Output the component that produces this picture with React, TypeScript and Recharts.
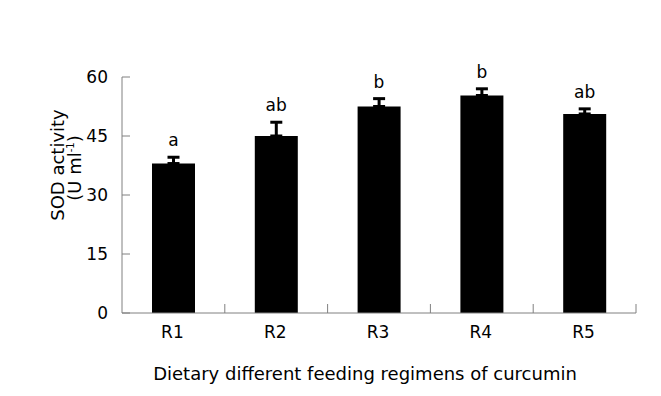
import React from 'react';
import { ComposedChart, Bar, Line, XAxis, YAxis, ErrorBar, LabelList } from 'recharts';

const regimens = ['R1', 'R2', 'R3', 'R4', 'R5'];
const sodMeans = [38.0, 45.0, 52.5, 55.3, 50.6];
const sodErrors = [1.6, 3.5, 2.0, 1.7, 1.3];
const letters = ['a', 'ab', 'b', 'b', 'ab'];
const yTicks = [0, 15, 30, 45, 60];

const data = regimens.map((r, i) => ({
    name: r,
    sod: sodMeans[i],
    err: [0, sodErrors[i]],
    top: sodMeans[i] + sodErrors[i],
    letter: letters[i],
}));

const FONT = '"DejaVu Sans", Verdana, sans-serif';
const AXIS = '#808080';

function YTick(props: any) {
    const { x, y, payload } = props;
    const axisX = x + 14;
    return (
        <g>
            <line x1={axisX} x2={axisX + 8} y1={y} y2={y} stroke={AXIS} strokeWidth={1} />
            <text x={x} y={y + 6} textAnchor="end" fontSize={17} fontFamily={FONT} fill="#000">{payload.value}</text>
        </g>
    );
}

function XTick(props: any) {
    const { x, y, payload } = props;
    const half = payload.offset ?? 51.4;
    return (
        <g>
            <line x1={x + half} x2={x + half} y1={y} y2={y - 9} stroke={AXIS} strokeWidth={1} />
            <text x={x - 1} y={y + 25} textAnchor="middle" fontSize={17} fontFamily={FONT} fill="#000">{payload.value}</text>
        </g>
    );
}

function LetterLabel(props: any) {
    const { x, y, value } = props;
    return (
        <text x={x} y={y - 11} textAnchor="middle" fontSize={17} fontFamily={FONT} fill="#000">{value}</text>
    );
}

function YTitle(props: any) {
    const { viewBox } = props;
    const cy = viewBox.y + viewBox.height / 2 - 30;
    return (
        <g fontFamily={FONT} fontSize={18} fill="#000">
            <text x={64} y={cy} textAnchor="middle" transform={`rotate(-90 64 ${cy})`}>SOD activity</text>
            <text x={81} y={cy + 3} textAnchor="middle" transform={`rotate(-90 81 ${cy + 3})`}>
                (U ml<tspan fontSize={10} dy={-7}>-1</tspan><tspan dy={7}>)</tspan>
            </text>
        </g>
    );
}

function XTitle(props: any) {
    const { viewBox } = props;
    const cx = viewBox.x + viewBox.width / 2 - 14;
    return (
        <text x={cx} y={380} textAnchor="middle" fontSize={18} fontFamily={FONT} fill="#000">
            Dietary different feeding regimens of curcumin
        </text>
    );
}

export default function App() {
    return (
        <div style={{ position: 'absolute', left: 0, top: 0, width: 661, height: 396, background: '#fff' }}>
            <ComposedChart width={661} height={396} data={data} margin={{ top: 77, right: 25, bottom: 53, left: 62 }}>
                <XAxis dataKey="name" height={30} stroke={AXIS} tickLine={false} tickSize={0} tickMargin={0} tick={<XTick />} interval={0} label={{ content: <XTitle /> }} />
                <YAxis width={60} domain={[0, 60]} ticks={yTicks} stroke={AXIS} tickLine={false} tickSize={0} tickMargin={14} tick={<YTick />} label={{ content: <YTitle /> }} />
                <Bar dataKey="sod" fill="#000" barSize={43} isAnimationActive={false}>
                    <ErrorBar dataKey="err" direction="y" width={6} stroke="#000" strokeWidth={3} />
                </Bar>
                <Line dataKey="top" stroke="none" dot={false} activeDot={false} isAnimationActive={false}>
                    <LabelList dataKey="letter" content={<LetterLabel />} />
                </Line>
            </ComposedChart>
        </div>
    );
}
